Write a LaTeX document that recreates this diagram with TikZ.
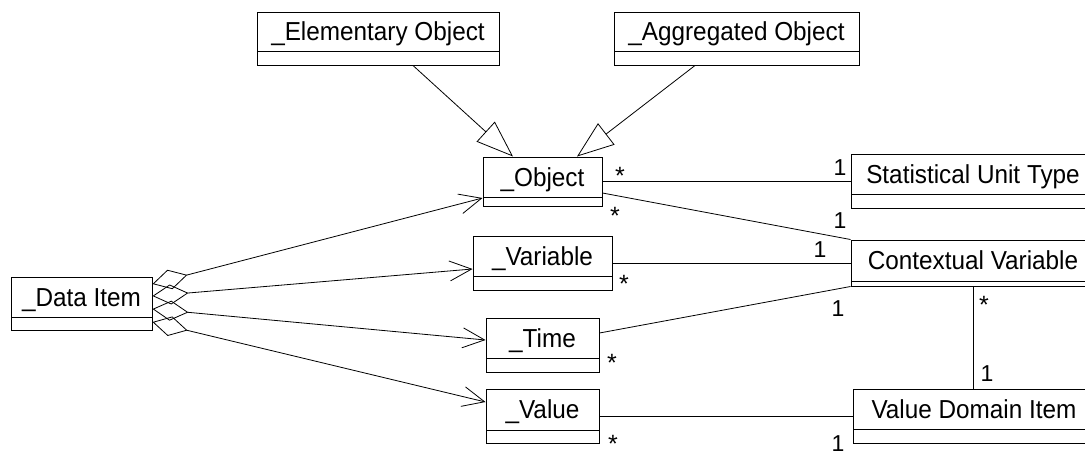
\documentclass[tikz,border=0pt]{standalone}
\usepackage{fontspec}
\setmainfont{Liberation Sans}
\newfontfamily\clsfont{Liberation Sans}[FakeStretch=0.935]
\usetikzlibrary{arrows.meta,fit,calc}
\newcommand{\umlcls}[7]{%
  \coordinate (#1-nw) at (#2,#3);
  \coordinate (#1-se) at (#4,#6);
  \node[classbox, fit=(#1-nw)(#1-se)] (#1) {};
  \draw[divline] (#2,#5) -- (#4,#5);
  \node[classtext] (#1-t) at ({(#2+#4)/2},{(#3+#5)/2+9.3}) {#7};
}
\begin{document}
\begin{tikzpicture}[x=1pt,y=-1pt,
  classbox/.style={draw=black, line width=1pt, inner sep=0pt, fill=white},
  divline/.style={draw=black, line width=1pt},
  classtext/.style={font=\clsfont\fontsize{26}{30}\selectfont, inner sep=0pt, anchor=base},
  conn/.style={draw=black, line width=0.8pt},
  gen/.style={conn, -{Triangle[open, length=37pt, width=27pt]}},
  agg/.style={conn, {Diamond[open, length=36pt, width=20pt]}-{Straight Barb[length=22pt, width=20pt]}},
  mone/.style={font=\fontsize{23}{27}\selectfont, inner sep=0pt, anchor=base},
  mstar/.style={font=\fontsize{25}{29}\selectfont, inner sep=0pt, anchor=base},
]
\clip (0,0) rectangle (1085,456);
\useasboundingbox (0,0) rectangle (1085,456);
\fill[white] (0,0) rectangle (1085,456);

\umlcls{elem}{257}{12}{499}{51}{65}{\_Elementary Object}
\umlcls{aggr}{614}{12}{859}{51}{65}{\_Aggregated Object}
\umlcls{obj}{483}{157}{602}{197}{206}{\_Object}
\umlcls{var}{473}{236}{612}{276}{290}{\_Variable}
\umlcls{time}{486}{318}{599}{358}{372}{\_Time}
\umlcls{val}{486}{389}{599}{430}{443}{\_Value}
\umlcls{di}{11}{277}{152}{317}{330}{\_Data Item}
\umlcls{sut}{851}{154}{1095}{194}{208}{Statistical Unit Type}
\umlcls{cv}{851}{240}{1095}{281}{286}{Contextual Variable}
\umlcls{vdi}{853}{389}{1095}{429}{443}{Value Domain Item}

% generalizations
\draw[gen] ([xshift=35pt]elem.south) -- ([xshift=-29.5pt]obj.north);
\draw[gen] ([xshift=-41.5pt]aggr.south) -- ([xshift=34.5pt]obj.north);

% associations
\draw[conn] (obj.east |- sut.west) -- (sut.west);
\draw[conn] ([yshift=-11.5pt]obj.east) -- (cv.north west);
\draw[conn] (var.east) -- (var.east -| cv.west);
\draw[conn] ([yshift=12pt]time.east) -- (cv.south west);
\draw[conn] (cv.south) -- (cv.south |- vdi.north);
\draw[conn] (val.east) -- (val.east -| vdi.west);

% aggregations
\draw[agg] ([yshift=19.5pt]di.east) -- ([yshift=-16.5pt]obj.west);
\draw[agg] ([yshift=7.5pt]di.east) -- ([yshift=-6pt]var.west);
\draw[agg] ([yshift=-5.5pt]di.east) -- ([yshift=5pt]time.west);
\draw[agg] ([yshift=-18.5pt]di.east) -- ([yshift=14pt]val.west);

% multiplicities
\node[mstar] (s1) at (620,184) {*};
\node[mone]  (o1) at (840,175) {1};
\node[mstar] (s2) at (615,224) {*};
\node[mone]  (o2) at (840,228) {1};
\node[mstar] (s3) at (624,292) {*};
\node[mone]  (o3) at (820,257) {1};
\node[mstar] (s4) at (612,371) {*};
\node[mone]  (o4) at (838,316) {1};
\node[mstar] (s5) at (984,313) {*};
\node[mone]  (o5) at (987,381) {1};
\node[mstar] (s6) at (613,452) {*};
\node[mone]  (o6) at (838,451) {1};
\end{tikzpicture}
\end{document}
